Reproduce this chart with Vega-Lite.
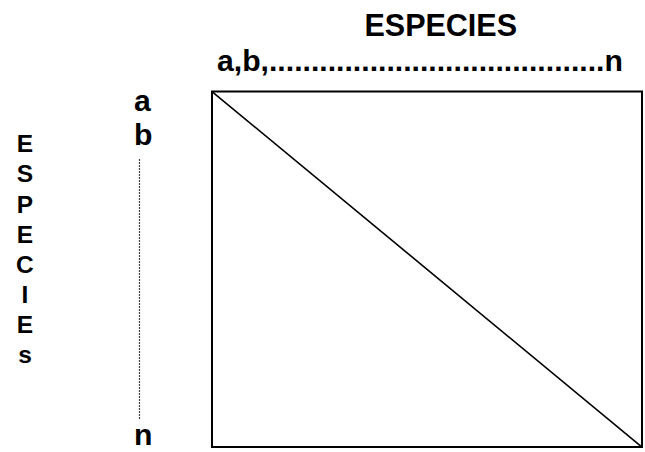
{
  "$schema": "https://vega.github.io/schema/vega-lite/v6.json",
  "width": 645,
  "height": 452,
  "padding": 0,
  "autosize": {"type": "fit", "contains": "padding"},
  "background": "white",
  "config": {"view": {"stroke": null}},
  "datasets": {
    "box": [{"x": 0, "y": 0, "x2": 100, "y2": 100}],
    "diagonal": [{"x": 0, "y": 0, "x2": 100, "y2": 100}],
    "dotted": [{"x": -16.86, "y": 19.05, "y2": 92.44}],
    "title": [{"label": "ESPECIES", "x": 53.2, "y": -15.69}],
    "leftLabels": [
      {"label": "a,b,........................................n", "x": 1.16, "y": -5.88},
      {"label": "a", "x": -18.14, "y": 5.32},
      {"label": "b", "x": -18.14, "y": 15.13},
      {"label": "n", "x": -18.14, "y": 99.44}
    ],
    "vertical": [
      {"label": "E", "x": -43.5, "y": 17.09},
      {"label": "S", "x": -43.5, "y": 25.57},
      {"label": "P", "x": -43.5, "y": 34.06},
      {"label": "E", "x": -43.5, "y": 42.55},
      {"label": "C", "x": -43.5, "y": 51.04},
      {"label": "I", "x": -43.5, "y": 59.52},
      {"label": "E", "x": -43.5, "y": 68.01},
      {"label": "s", "x": -43.5, "y": 76.5}
    ]
  },
  "resolve": {"scale": {"x": "shared", "y": "shared"}},
  "layer": [
    {
      "data": {"name": "box"},
      "mark": {"type": "rect", "fillOpacity": 0, "stroke": "black", "strokeWidth": 2},
      "encoding": {
        "x": {"field": "x", "type": "quantitative", "scale": {"domain": [-49.3, 100.7], "nice": false, "zero": false}, "axis": null},
        "x2": {"field": "x2"},
        "y": {"field": "y", "type": "quantitative", "scale": {"domain": [-25.77, 100.84], "nice": false, "zero": false, "reverse": true}, "axis": null},
        "y2": {"field": "y2"}
      }
    },
    {
      "data": {"name": "diagonal"},
      "mark": {"type": "rule", "stroke": "black", "strokeWidth": 1.6},
      "encoding": {
        "x": {"field": "x", "type": "quantitative"},
        "x2": {"field": "x2"},
        "y": {"field": "y", "type": "quantitative"},
        "y2": {"field": "y2"}
      }
    },
    {
      "data": {"name": "dotted"},
      "mark": {"type": "rule", "stroke": "black", "strokeWidth": 1.2, "strokeDash": [1.5, 1.5]},
      "encoding": {
        "x": {"field": "x", "type": "quantitative"},
        "y": {"field": "y", "type": "quantitative"},
        "y2": {"field": "y2"}
      }
    },
    {
      "data": {"name": "title"},
      "mark": {"type": "text", "font": "Liberation Sans", "fontWeight": "bold", "fontSize": 30.5, "align": "center", "baseline": "alphabetic", "color": "black"},
      "encoding": {
        "x": {"field": "x", "type": "quantitative"},
        "y": {"field": "y", "type": "quantitative"},
        "text": {"field": "label"}
      }
    },
    {
      "data": {"name": "leftLabels"},
      "mark": {"type": "text", "font": "Liberation Sans", "fontWeight": "bold", "fontSize": 30.2, "align": "left", "baseline": "alphabetic", "color": "black"},
      "encoding": {
        "x": {"field": "x", "type": "quantitative"},
        "y": {"field": "y", "type": "quantitative"},
        "text": {"field": "label"}
      }
    },
    {
      "data": {"name": "vertical"},
      "mark": {"type": "text", "font": "Liberation Sans", "fontWeight": "bold", "fontSize": 24.5, "align": "center", "baseline": "alphabetic", "color": "black"},
      "encoding": {
        "x": {"field": "x", "type": "quantitative"},
        "y": {"field": "y", "type": "quantitative"},
        "text": {"field": "label"}
      }
    }
  ]
}
